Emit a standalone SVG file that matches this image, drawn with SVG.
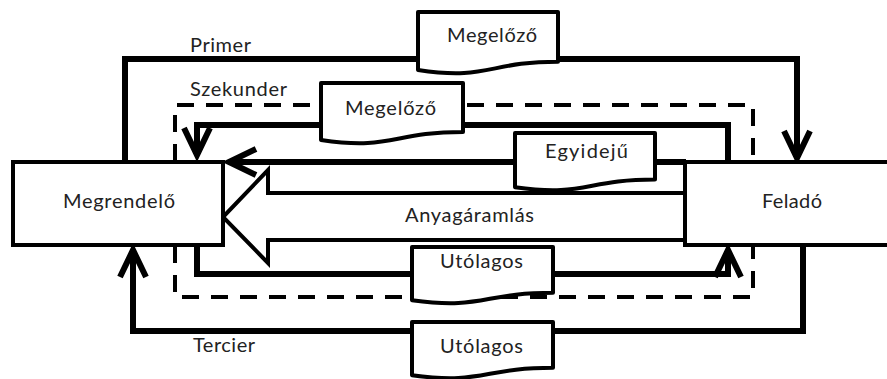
<svg xmlns="http://www.w3.org/2000/svg" width="887" height="379" viewBox="0 0 887 379">
<style>
.lbl{font-family:Lato,"Open Sans",sans-serif;font-size:20px;fill:#222}
.con{fill:none;stroke:#000;stroke-width:6;stroke-linejoin:miter}
.dash{fill:none;stroke:#000;stroke-width:4;stroke-dasharray:17 12}
.box{fill:#fff;stroke:#000;stroke-width:4}
.doc{fill:#fff;stroke:#000;stroke-width:4;stroke-linejoin:round}
.big{fill:#fff;stroke:#000;stroke-width:4;stroke-linejoin:miter}
</style>
<defs>
<marker id="arr" markerUnits="userSpaceOnUse" markerWidth="40" markerHeight="40" refX="0" refY="0" orient="auto" overflow="visible">
<path d="M-27,-13 L0,0 L-27,13" fill="none" stroke="#000" stroke-width="6" stroke-linejoin="miter"/>
</marker>
</defs>
<g id="connectors">
<path class="dash" d="M175,161 V105 H753 V161"/>
<path class="dash" d="M175,246 V297 H753 V246"/>
<path class="con" d="M125,162 V59 H797 V158" marker-end="url(#arr)"/>
<path class="con" d="M728,162 V125 H197 V155" marker-end="url(#arr)"/>
<path class="con" d="M686,162 H229" marker-end="url(#arr)"/>
<path class="con" d="M197,245 V274 H728 V250" marker-end="url(#arr)"/>
<path class="con" d="M803,245 V331 H133 V250" marker-end="url(#arr)"/>
<g id="anyagaramlas">
<polygon class="big" points="690,193 268,193 268,170 223,217 268,263 268,240 690,240"/>
<text class="lbl" x="405" y="222" textLength="129" lengthAdjust="spacing">Anyagáramlás</text>
</g>
<text class="lbl" x="190" y="52" textLength="61" lengthAdjust="spacing">Primer</text>
<text class="lbl" x="190" y="96" textLength="97" lengthAdjust="spacing">Szekunder</text>
<text class="lbl" x="193" y="352" textLength="62" lengthAdjust="spacing">Tercier</text>
</g>
<g id="megrendelo">
<rect class="box" x="13" y="162" width="210" height="83"/>
<text class="lbl" x="63" y="208" textLength="112" lengthAdjust="spacing">Megrendelő</text>
</g>
<g id="felado">
<rect class="box" x="685" y="162" width="210" height="83"/>
<text class="lbl" x="762" y="208" textLength="60" lengthAdjust="spacing">Feladó</text>
</g>
<g id="megelozo1">
<path class="doc" d="M418,12 H558 V61.7 C488,61.7 488,80.6 418,69.9 Z"/>
<text class="lbl" x="447" y="42" textLength="90" lengthAdjust="spacing">Megelőző</text>
</g>
<g id="megelozo2">
<path class="doc" d="M321,83 H463 V132 C392,132 392,150.5 321,140 Z"/>
<text class="lbl" x="345" y="115" textLength="91" lengthAdjust="spacing">Megelőző</text>
</g>
<g id="egyideju">
<path class="doc" d="M515,133 H655 V179.5 C585,179.5 585,197.2 515,187.2 Z"/>
<text class="lbl" x="545" y="158" textLength="83" lengthAdjust="spacing">Egyidejű</text>
</g>
<g id="utolagos1">
<path class="doc" d="M412,247 H553 V292.7 C482.5,292.7 482.5,310.1 412,300.2 Z"/>
<text class="lbl" x="440" y="268" textLength="83" lengthAdjust="spacing">Utólagos</text>
</g>
<g id="utolagos2">
<path class="doc" d="M412,322 H553 V367.7 C482.5,367.7 482.5,385.1 412,375.2 Z"/>
<text class="lbl" x="440" y="353" textLength="83" lengthAdjust="spacing">Utólagos</text>
</g>
</svg>
